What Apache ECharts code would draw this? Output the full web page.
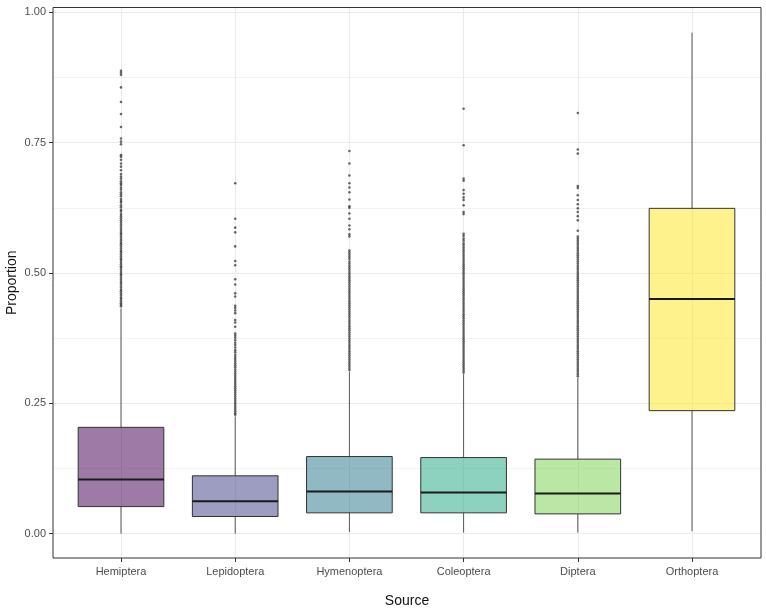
<!DOCTYPE html>
<html>
<head>
<meta charset="utf-8">
<script src="https://cdn.jsdelivr.net/npm/echarts@6/dist/echarts.min.js"></script>
<style>
  html, body { margin: 0; padding: 0; background: #fff; }
  #main { width: 766px; height: 611px; }
</style>
</head>
<body>
<div id="main"></div>
<script>
// categories on the x axis
const categories = ['Hemiptera', 'Lepidoptera', 'Hymenoptera', 'Coleoptera', 'Diptera', 'Orthoptera'];

// box statistics
const whiskerLow  = [0.000, 0.000, 0.003, 0.002, 0.002, 0.005];
const q1          = [0.052, 0.033, 0.040, 0.040, 0.038, 0.236];
const median      = [0.104, 0.062, 0.081, 0.079, 0.077, 0.450];
const q3          = [0.204, 0.111, 0.148, 0.146, 0.143, 0.624];
const whiskerHigh = [0.432, 0.225, 0.311, 0.306, 0.299, 0.961];

// outlier points per category
const outHemiptera = [0.888, 0.884, 0.880, 0.856, 0.828, 0.805, 0.780, 0.758, 0.752, 0.747, 0.726, 0.723, 0.717, 0.710, 0.704, 0.697, 0.690, 0.685, 0.681, 0.676, 0.672, 0.669, 0.664, 0.660, 0.655, 0.651, 0.647, 0.642, 0.638, 0.635, 0.630, 0.626, 0.621, 0.618, 0.613, 0.609, 0.605, 0.601, 0.597, 0.593, 0.589, 0.585, 0.581, 0.577, 0.574, 0.570, 0.566, 0.562, 0.558, 0.555, 0.551, 0.547, 0.543, 0.540, 0.536, 0.532, 0.528, 0.525, 0.521, 0.517, 0.513, 0.510, 0.506, 0.502, 0.498, 0.495, 0.491, 0.487, 0.483, 0.480, 0.476, 0.472, 0.468, 0.465, 0.461, 0.457, 0.453, 0.450, 0.446, 0.442, 0.439, 0.436];
const outLepidoptera = [0.672, 0.604, 0.587, 0.578, 0.551, 0.523, 0.515, 0.488, 0.478, 0.461, 0.455, 0.437, 0.433, 0.428, 0.423, 0.410, 0.405, 0.397, 0.384, 0.380, 0.376, 0.371, 0.366, 0.362, 0.357, 0.352, 0.348, 0.343, 0.339, 0.335, 0.331, 0.327, 0.323, 0.319, 0.315, 0.311, 0.307, 0.303, 0.299, 0.295, 0.291, 0.287, 0.283, 0.279, 0.275, 0.271, 0.267, 0.263, 0.259, 0.255, 0.251, 0.247, 0.243, 0.239, 0.235, 0.231, 0.228];
const outHymenoptera = [0.734, 0.710, 0.687, 0.672, 0.664, 0.655, 0.641, 0.628, 0.625, 0.614, 0.604, 0.591, 0.584, 0.574, 0.570, 0.543, 0.539, 0.535, 0.531, 0.527, 0.522, 0.518, 0.514, 0.510, 0.506, 0.502, 0.498, 0.494, 0.490, 0.486, 0.482, 0.478, 0.474, 0.470, 0.466, 0.462, 0.458, 0.454, 0.450, 0.446, 0.442, 0.438, 0.434, 0.430, 0.426, 0.422, 0.418, 0.414, 0.410, 0.406, 0.402, 0.398, 0.394, 0.390, 0.386, 0.382, 0.378, 0.374, 0.370, 0.366, 0.362, 0.358, 0.354, 0.350, 0.346, 0.342, 0.338, 0.334, 0.330, 0.326, 0.322, 0.318, 0.314];
const outColeoptera = [0.815, 0.745, 0.681, 0.677, 0.659, 0.652, 0.645, 0.640, 0.630, 0.617, 0.613, 0.575, 0.571, 0.566, 0.562, 0.557, 0.553, 0.549, 0.545, 0.541, 0.537, 0.533, 0.529, 0.525, 0.521, 0.517, 0.513, 0.509, 0.505, 0.501, 0.497, 0.493, 0.489, 0.485, 0.481, 0.477, 0.473, 0.469, 0.465, 0.461, 0.457, 0.453, 0.449, 0.445, 0.441, 0.437, 0.433, 0.429, 0.425, 0.421, 0.417, 0.413, 0.409, 0.405, 0.401, 0.397, 0.393, 0.389, 0.385, 0.381, 0.377, 0.373, 0.369, 0.365, 0.361, 0.357, 0.353, 0.349, 0.345, 0.341, 0.337, 0.333, 0.329, 0.325, 0.321, 0.317, 0.313, 0.309];
const outDiptera = [0.807, 0.737, 0.729, 0.667, 0.663, 0.649, 0.640, 0.632, 0.624, 0.617, 0.609, 0.601, 0.581, 0.570, 0.566, 0.562, 0.558, 0.554, 0.550, 0.546, 0.542, 0.538, 0.534, 0.530, 0.526, 0.522, 0.518, 0.514, 0.510, 0.506, 0.502, 0.498, 0.494, 0.490, 0.486, 0.482, 0.478, 0.474, 0.470, 0.466, 0.462, 0.458, 0.454, 0.450, 0.446, 0.442, 0.438, 0.434, 0.430, 0.426, 0.422, 0.418, 0.414, 0.410, 0.406, 0.402, 0.398, 0.394, 0.390, 0.386, 0.382, 0.378, 0.374, 0.370, 0.366, 0.362, 0.358, 0.354, 0.350, 0.346, 0.342, 0.338, 0.334, 0.330, 0.326, 0.322, 0.318, 0.314, 0.310, 0.306, 0.302];
const outOrthoptera = [];

// y tick values
const yTicks = [0, 0.25, 0.5, 0.75, 1];

const outliers = [outHemiptera, outLepidoptera, outHymenoptera, outColeoptera, outDiptera, outOrthoptera];
const fills = ['rgba(68,1,84,0.52)', 'rgba(65,68,135,0.52)', 'rgba(42,120,142,0.52)',
               'rgba(34,168,132,0.52)', 'rgba(122,209,81,0.52)', 'rgba(253,231,37,0.52)'];

const boxData = categories.map((c, i) => [i, whiskerLow[i], q1[i], median[i], q3[i], whiskerHigh[i]]);
const pointData = [];
outliers.forEach((arr, i) => arr.forEach(v => pointData.push([i, v])));

const font = 'Liberation Sans, Arial, sans-serif';

function renderBox(params, api) {
  const i = api.value(0);
  const pLow = api.coord([i, api.value(1)]);
  const pQ1 = api.coord([i, api.value(2)]);
  const pMed = api.coord([i, api.value(3)]);
  const pQ3 = api.coord([i, api.value(4)]);
  const pHigh = api.coord([i, api.value(5)]);
  const half = api.size([1, 0])[0] * 0.375;
  const x = pMed[0];
  return {
    type: 'group',
    children: [
      { type: 'line', shape: { x1: x, y1: pLow[1], x2: x, y2: pQ1[1] }, style: { stroke: '#555', lineWidth: 1 } },
      { type: 'line', shape: { x1: x, y1: pQ3[1], x2: x, y2: pHigh[1] }, style: { stroke: '#555', lineWidth: 1 } },
      { type: 'rect', shape: { x: x - half, y: pQ3[1], width: half * 2, height: pQ1[1] - pQ3[1] },
        style: { fill: fills[i], stroke: '#333', lineWidth: 1 } },
      { type: 'line', shape: { x1: x - half, y1: pMed[1], x2: x + half, y2: pMed[1] },
        style: { stroke: '#1a1a1a', lineWidth: 2 } }
    ]
  };
}

const chart = echarts.init(document.getElementById('main'));
chart.setOption({
  animation: false,
  backgroundColor: '#fff',
  textStyle: { fontFamily: font },
  grid: [
    { left: 53, right: 5, top: 7.5, bottom: 53, outerBoundsMode: 'none', show: true,
      borderColor: '#333', borderWidth: 1, backgroundColor: 'transparent', z: 3 },
    { left: 53, right: 5, top: 12.3, bottom: 77.3, outerBoundsMode: 'none' },
    { left: 121, right: 74, top: 7.5, bottom: 53, outerBoundsMode: 'none' },
    { left: 121, right: 74, top: 12.3, bottom: 77.3, outerBoundsMode: 'none' }
  ],
  xAxis: [
    { gridIndex: 0, type: 'value', min: 0, max: 1, axisLine: { show: false }, axisTick: { show: false },
      axisLabel: { show: false }, splitLine: { show: false },
      name: 'Source', nameLocation: 'middle', nameGap: 36,
      nameTextStyle: { fontSize: 14, color: '#111', fontFamily: font } },
    { gridIndex: 1, type: 'value', show: false },
    { gridIndex: 2, type: 'category', data: categories, boundaryGap: false,
      axisLine: { show: false },
      axisTick: { show: true, length: 4, lineStyle: { color: '#333' } },
      axisLabel: { interval: 0, color: '#4d4d4d', fontSize: 11, margin: 8, fontFamily: font },
      splitLine: { show: true, lineStyle: { color: '#ebebeb', width: 1 } } },
    { gridIndex: 3, type: 'category', data: categories, boundaryGap: false, show: false }
  ],
  yAxis: [
    { gridIndex: 0, type: 'value', min: 0, max: 1, axisLine: { show: false }, axisTick: { show: false },
      axisLabel: { show: false }, splitLine: { show: false },
      name: 'Proportion', nameLocation: 'middle', nameGap: 34, nameRotate: 90,
      nameTextStyle: { fontSize: 14, color: '#111', fontFamily: font } },
    { gridIndex: 1, type: 'value', min: yTicks[0], max: yTicks[yTicks.length - 1], interval: 0.25,
      axisLine: { show: false },
      axisTick: { show: true, length: 4, lineStyle: { color: '#333' } },
      axisLabel: { color: '#4d4d4d', fontSize: 11, margin: 7, fontFamily: font,
                   formatter: v => v.toFixed(2) },
      splitLine: { show: true, lineStyle: { color: '#ebebeb', width: 1 } },
      minorTick: { show: false, splitNumber: 2 },
      minorSplitLine: { show: true, lineStyle: { color: '#f4f4f4', width: 1 } } },
    { gridIndex: 2, type: 'value', show: false },
    { gridIndex: 3, type: 'value', min: 0, max: 1, show: false }
  ],
  series: [
    { type: 'custom', xAxisIndex: 3, yAxisIndex: 3, data: boxData,
      encode: { x: 0, y: [1, 2, 3, 4, 5] }, renderItem: renderBox, z: 2 },
    { type: 'scatter', xAxisIndex: 3, yAxisIndex: 3, data: pointData, clip: false,
      symbolSize: 2.6, itemStyle: { color: 'rgba(35,35,35,0.85)' }, z: 3 }
  ]
});
</script>
</body>
</html>
